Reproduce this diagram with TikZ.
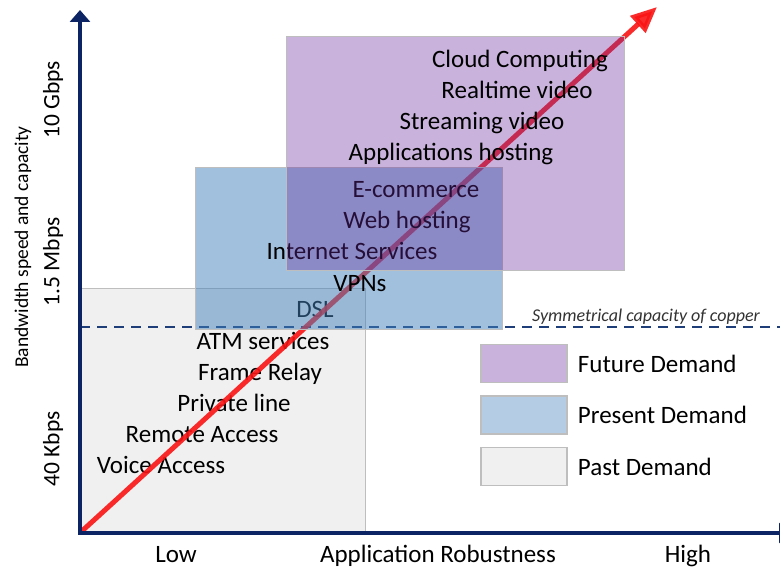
\documentclass[tikz,border=0pt]{standalone}
\usepackage{fontspec}
\setmainfont{Carlito}
\usetikzlibrary{positioning,
	arrows.meta}
\definecolor{navy}{RGB}{12,36,100}
\definecolor{cu}{RGB}{30,62,122}
\definecolor{pastfill}{RGB}{240,240,240}
\definecolor{boxline}{RGB}{190,190,190}
\definecolor{presfill}{RGB}{65,129,187}
\definecolor{futfill}{RGB}{104,43,157}
\definecolor{preskey}{RGB}{180,204,228}
\definecolor{futkey}{RGB}{201,179,220}
\definecolor{trend}{RGB}{250,20,20}
\tikzstyle{lbl}=[font=\fontsize{25}{30}\selectfont, inner sep=0, anchor=base]
\tikzstyle{ylbl}=[font=\fontsize{23.5}{28}\selectfont, inner sep=0, rotate=90]
\tikzstyle{past}=[draw=boxline, fill=pastfill]
\tikzstyle{pres}=[draw=boxline, fill=presfill, fill opacity=0.5]
\tikzstyle{fut}=[draw=boxline, fill=futfill, fill opacity=0.36]
\tikzstyle{key}=[draw=boxline, line width=1.5pt, minimum width=86pt,
		minimum height=38pt, inner sep=0]
\tikzstyle{keylbl}=[font=\fontsize{25}{30}\selectfont, inner sep=0]

\begin{document}
\begin{tikzpicture}[x=1pt, y=-1pt]
        \useasboundingbox (0,0) rectangle (780,569);
        \coordinate (O) at (80,533);
        \coordinate (ytop) at (80,10);
        \coordinate (xend) at (791,533);
        \coordinate (rs) at (82,531);
        \coordinate (re) at (657,7);
        \coordinate (cl) at (80,327);
        \coordinate (cr) at (790,327);

        % past demand
        \draw[past] (80,288) rectangle (365,533);
        \draw[cu, line width=2.2pt, dash pattern=on 10pt off 7pt] (cl) -- (cr);
        \node[font=\fontsize{18}{22}\selectfont\itshape, inner sep=0, anchor=base, text=black!80]
            (cap) at (646,322) {Symmetrical capacity of copper};
        \node[lbl] (dsl) at (315,318) {DSL};
        \node[lbl] (atm) at (263,350) {ATM services};
        \node[lbl] (fr) at (260,381) {Frame Relay};
        \node[lbl] (pl) at (234,412) {Private line};
        \node[lbl] (ra) at (202,443) {Remote Access};
        \node[lbl] (va) at (161,474) {Voice Access};
        \draw[trend, opacity=0.9, line width=5pt, -{Triangle[length=26pt, width=22pt]}] (rs) -- (re);

        % present demand
        \draw[pres] (195,167) rectangle (502,329);
        \node[lbl] (vpn) at (360,292) {VPNs};
        \node[lbl] (is) at (352,260) {Internet Services};
        \node[lbl] (wh) at (407,229) {Web hosting};
        \node[lbl] (ec) at (416,198) {E-commerce};

        % future demand
        \draw[fut] (286,36) rectangle (624,270);
        \node[lbl] (ah) at (451,161) {Applications hosting};
        \node[lbl] (sv) at (482,130) {Streaming video};
        \node[lbl] (rv) at (517,99) {Realtime video};
        \node[lbl] (cc) at (520,68) {Cloud Computing};

        % axes
        \draw[navy, line width=4pt, line join=miter,
            {Triangle[length=12pt, width=20pt]}-{Triangle[length=12pt, width=20pt]}] (ytop) -- (O) -- (xend);
        \node[lbl] (lo) at (176,562) {Low};
        \node[lbl] (ar) at (438,562) {Application Robustness};
        \node[lbl] (hi) at (688,562) {High};
        \node[ylbl, font=\fontsize{19.5}{24}\selectfont] (bw) at (23,247) {Bandwidth speed and capacity};
        \node[ylbl] (g10) at (53,100) {10 Gbps};
        \node[ylbl] (m15) at (53,262) {1.5 Mbps};
        \node[ylbl] (k40) at (53,449) {40 Kbps};

        % legend
        \node[key, fill=futkey] (kfut) at (524,363.5) {};
        \node[key, fill=preskey, below=12pt of kfut] (kpres) {};
        \node[key, fill=pastfill, below=12pt of kpres] (kpast) {};
        \node[keylbl, right=10pt of kfut] (tfut) {Future Demand};
        \node[keylbl, right=10pt of kpres] (tpres) {Present Demand};
        \node[keylbl, right=10pt of kpast] (tpast) {Past Demand};
    \end{tikzpicture}
\end{document}
